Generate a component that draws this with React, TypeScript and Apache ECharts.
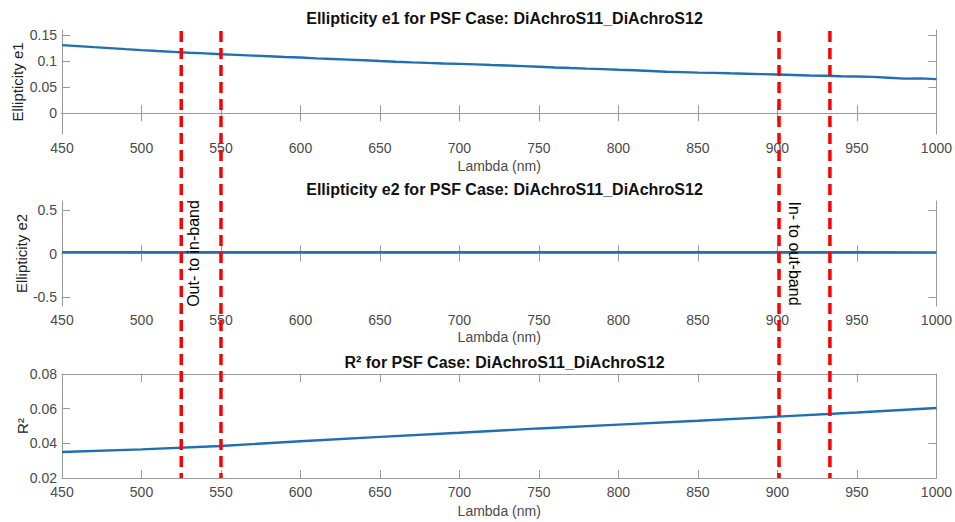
import React, { useEffect, useRef } from "react";
import * as echarts from "echarts";

// ---------- data ----------
const lambdaE1 = [450, 460, 470, 480, 490, 500, 510, 520, 530, 540, 550, 560, 570, 580, 590, 600, 610, 620, 630, 640, 650, 660, 670, 680, 690, 700, 710, 720, 730, 740, 750, 760, 770, 780, 790, 800, 810, 820, 830, 840, 850, 860, 870, 880, 890, 900, 910, 920, 930, 940, 950, 960, 970, 980, 990, 1000];
const e1Values = [0.131, 0.129, 0.127, 0.1252, 0.1232, 0.1213, 0.1196, 0.118, 0.1163, 0.115, 0.1135, 0.1122, 0.1108, 0.1095, 0.1082, 0.107, 0.1055, 0.1043, 0.103, 0.1017, 0.1003, 0.099, 0.0978, 0.0967, 0.0957, 0.0948, 0.0938, 0.0927, 0.0917, 0.0905, 0.0893, 0.088, 0.0868, 0.0857, 0.0847, 0.0836, 0.0826, 0.0812, 0.0798, 0.079, 0.0781, 0.0775, 0.0767, 0.076, 0.0752, 0.0745, 0.0736, 0.0726, 0.072, 0.0712, 0.0706, 0.0698, 0.0683, 0.0664, 0.067, 0.0655];

const lambdaCoarse = [450, 500, 550, 600, 650, 700, 750, 800, 850, 900, 950, 1000];
const e2Values = [0.016, 0.015, 0.015, 0.015, 0.015, 0.015, 0.015, 0.015, 0.015, 0.015, 0.014, 0.013];
const r2Values = [0.035, 0.0365, 0.0385, 0.0412, 0.0437, 0.0461, 0.0486, 0.0508, 0.053, 0.0554, 0.0578, 0.0604];

const e1Ticks = [0, 0.05, 0.1, 0.15];
const e2Ticks = [-0.5, 0, 0.5];
const r2Ticks = [0.02, 0.04, 0.06, 0.08];

const bandEdges = [525, 550, 901, 933];
const annotations = [
  { text: "Out- to in-band", lambda: 533, value: 0, dir: 1 },
  { text: "In- to out-band", lambda: 911, value: 0, dir: -1 },
];

const titles = [
  "Ellipticity e1 for PSF Case: DiAchroS11_DiAchroS12",
  "Ellipticity e2 for PSF Case: DiAchroS11_DiAchroS12",
  "R² for PSF Case: DiAchroS11_DiAchroS12",
];
const yNames = ["Ellipticity e1", "Ellipticity e2", "R²"];

// ---------- styling ----------
const FONT = "Liberation Sans, Arial, sans-serif";
const AXIS_COLOR = "#9a9a9a";
const LABEL_COLOR = "#4a4a4a";
const LINE_COLOR = "#1f6fb2";

const grids = [
  { left: 62, top: 30, width: 875, height: 104 },
  { left: 62, top: 201, width: 875, height: 105 },
  { left: 62, top: 374, width: 875, height: 104 },
];
const yRanges = [
  { min: -0.04, max: 0.16, ticks: e1Ticks, nameGap: 37 },
  { min: -0.6, max: 0.6, ticks: e2Ticks, nameGap: 33 },
  { min: 0.02, max: 0.08, ticks: r2Ticks, nameGap: 32 },
];
const xNameGaps = [25, 24, 26];

export default function App() {
  const ref = useRef<HTMLDivElement>(null);

  useEffect(() => {
    if (!ref.current) return;
    const chart = echarts.init(ref.current, null, { renderer: "svg" });

    const xAxes: any[] = [];
    const yAxes: any[] = [];
    grids.forEach((g, i) => {
      xAxes.push({
        type: "value",
        gridIndex: i,
        position: "bottom",
        min: 450,
        max: 1000,
        interval: 50,
        name: "Lambda (nm)",
        nameLocation: "middle",
        nameGap: xNameGaps[i],
        nameMoveOverlap: false,
        nameTextStyle: { fontFamily: FONT, fontSize: 14, color: LABEL_COLOR },
        axisLine: { show: true, lineStyle: { color: AXIS_COLOR, width: 1 } },
        axisTick: { show: true, inside: true, length: 8, lineStyle: { color: AXIS_COLOR } },
        axisLabel: {
          fontFamily: FONT,
          fontSize: 14,
          color: LABEL_COLOR,
          margin: 7,
          formatter: (v: number) => String(v),
        },
        splitLine: { show: false },
      });
      xAxes.push({
        type: "value",
        gridIndex: i,
        position: "top",
        min: 450,
        max: 1000,
        interval: 50,
        axisLine: { show: true, lineStyle: { color: AXIS_COLOR, width: 1 } },
        axisTick: { show: true, inside: true, length: 8, lineStyle: { color: AXIS_COLOR } },
        axisLabel: { show: false },
        splitLine: { show: false },
      });
      const yr = yRanges[i];
      yAxes.push({
        type: "value",
        gridIndex: i,
        position: "left",
        min: yr.min,
        max: yr.max,
        name: yNames[i],
        nameLocation: "middle",
        nameGap: yr.nameGap,
        nameMoveOverlap: false,
        nameTextStyle: { fontFamily: FONT, fontSize: 15, color: "#222" },
        axisLine: { show: true, lineStyle: { color: AXIS_COLOR, width: 1 } },
        axisTick: { show: true, inside: true, length: 8, customValues: yr.ticks, lineStyle: { color: AXIS_COLOR } },
        axisLabel: {
          fontFamily: FONT,
          fontSize: 14,
          color: LABEL_COLOR,
          margin: 5,
          customValues: yr.ticks,
          formatter: (v: number) => String(Math.round(v * 1000) / 1000),
        },
        splitLine: { show: false },
      });
      yAxes.push({
        type: "value",
        gridIndex: i,
        position: "right",
        min: yr.min,
        max: yr.max,
        axisLine: { show: true, lineStyle: { color: AXIS_COLOR, width: 1 } },
        axisTick: { show: true, inside: true, length: 8, customValues: yr.ticks, lineStyle: { color: AXIS_COLOR } },
        axisLabel: { show: false, customValues: yr.ticks },
        splitLine: { show: false },
      });
    });

    const mk = (xs: number[], ys: number[]) => xs.map((x, i) => [x, ys[i]]);
    const lineSeries = (data: number[][], gi: number) => ({
      type: "line",
      xAxisIndex: gi * 2,
      yAxisIndex: gi * 2,
      data,
      showSymbol: false,
      symbol: "none",
      smooth: false,
      lineStyle: { color: LINE_COLOR, width: 2.4 },
    });

    chart.setOption({
      animation: false,
      backgroundColor: "#ffffff",
      title: titles.map((t, i) => ({
        text: t,
        left: grids[i].left + grids[i].width / 2,
        top: grids[i].top - 25,
        textAlign: "center",
        textStyle: { fontFamily: FONT, fontSize: 16, fontWeight: "bold", color: "#111" },
      })),
      grid: grids.map((g) => ({ ...g, containLabel: false })),
      xAxis: xAxes,
      yAxis: yAxes,
      series: [
        lineSeries(mk(lambdaE1, e1Values), 0),
        lineSeries(mk(lambdaCoarse, e2Values), 1),
        lineSeries(mk(lambdaCoarse, r2Values), 2),
      ],
    });

    const topY = (chart.convertToPixel({ yAxisIndex: 0 }, yRanges[0].max) as number) + 1;
    const botY = chart.convertToPixel({ yAxisIndex: 4 }, yRanges[2].min) as number;
    const graphic: any[] = [];
    bandEdges.forEach((lam) => {
      const px = chart.convertToPixel({ xAxisIndex: 0 }, lam) as number;
      graphic.push({
        type: "line",
        shape: { x1: px, y1: topY, x2: px, y2: botY },
        style: { stroke: "#ff0000", lineWidth: 3.5, lineDash: [11, 6] },
        z: 100,
      });
    });
    annotations.forEach((a) => {
      const [px, py] = chart.convertToPixel({ xAxisIndex: 2, yAxisIndex: 2 }, [a.lambda, a.value]) as number[];
      graphic.push({
        type: "text",
        x: px,
        y: py,
        rotation: (a.dir * Math.PI) / 2,
        style: {
          text: a.text,
          fontFamily: FONT,
          fontSize: 16,
          fill: "#000",
          align: "center",
          verticalAlign: "middle",
        },
        z: 101,
      });
    });
    chart.setOption({ graphic });

    return () => chart.dispose();
  }, []);

  return (
    <div
      ref={ref}
      style={{ position: "fixed", left: 0, top: 0, width: 955, height: 522, background: "#fff" }}
    />
  );
}
